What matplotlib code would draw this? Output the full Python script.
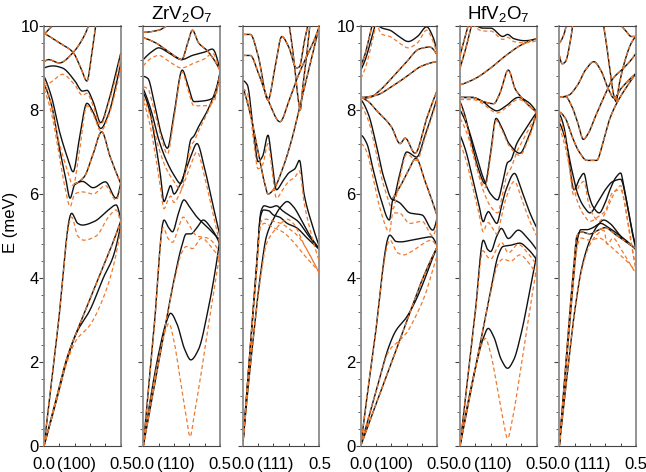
import numpy as np
import matplotlib
matplotlib.use("Agg")
import matplotlib.pyplot as plt

plt.rcParams["font.family"] = ["Liberation Sans", "DejaVu Sans"]
plt.rcParams["mathtext.fontset"] = "custom"
plt.rcParams["mathtext.rm"] = "Liberation Sans"
plt.rcParams["mathtext.it"] = "Liberation Sans:italic"

# ---------------------------------------------------------------------------
# Phonon branches, (q, E) pairs: q in reduced units 0..0.5, E in meV.
# "solid" = black branches, "dashed" = orange branches; an integer in a
# dashed list means the dashed branch coincides with that solid branch.
# ---------------------------------------------------------------------------

# ZrV2O7, (100)
zr100_solid = [
    [(0, 0), (.075, 1.0), (.15, 2.05), (.21, 2.68), (.3, 3.24), (.39, 4.03), (.45, 4.5), (.5, 5.25)],
    [(0, 0), (.075, 1.05), (.15, 2.1), (.25, 3.05), (.35, 3.95), (.45, 4.85), (.5, 5.35)],
    [(0, 0), (.09, 2.8), (.18, 5.54), (.22, 5.3), (.25, 5.26), (.33, 5.35), (.42, 5.62), (.47, 5.74), (.5, 5.4)],
    [(0, 8.6), (.05, 8.1), (.1, 7.1), (.14, 6.4), (.17, 5.9), (.2, 6.22), (.25, 6.3), (.32, 6.15), (.4, 6.29), (.47, 5.9), (.5, 6.25)],
    [(.2, 6.25), (.26, 6.4), (.32, 6.95), (.376, 7.48), (.43, 6.9), (.5, 6.25)],
    [(0, 8.8), (.05, 8.3), (.1, 7.5), (.15, 6.9), (.19, 6.53), (.23, 7.3), (.28, 8.16), (.32, 7.95), (.37, 7.56), (.42, 7.9), (.47, 8.6), (.5, 9.1)],
    [(0, 9.0), (.06, 9.05), (.12, 9.0), (.2, 8.7), (.25, 8.45), (.28, 8.47), (.32, 8.2), (.37, 7.7), (.42, 8.2), (.47, 8.9), (.5, 9.35)],
    [(0, 9.83), (.1, 9.6), (.19, 9.37), (.24, 9.0), (.28, 8.69), (.31, 9.3), (.34, 10.1)],
    [(0, 9.15), (.03, 9.2), (.1, 9.12), (.19, 9.37), (.26, 9.75), (.3, 10.1)],
    [(0, 9.8), (.04, 9.95), (.08, 10.1)],
]
zr100_dashed = [
    [(0, 0), (.075, 1.0), (.15, 2.0), (.21, 2.52), (.3, 2.88), (.39, 3.56), (.45, 4.25), (.5, 5.15)],
    1,
    [(0, 0), (.09, 2.8), (.18, 5.45), (.22, 5.0), (.26, 4.9), (.34, 5.0), (.42, 5.45), (.47, 5.62), (.5, 5.3)],
    [(0, 8.5), (.05, 7.9), (.1, 6.9), (.14, 6.1), (.17, 5.7), (.2, 6.0), (.25, 6.05), (.32, 6.0), (.4, 6.2), (.47, 5.85), (.5, 6.2)],
    4,
    [(0, 8.7), (.05, 8.1), (.1, 7.2), (.15, 6.6), (.19, 6.2), (.23, 7.0), (.28, 8.1), (.32, 7.9), (.37, 7.5), (.42, 7.85), (.47, 8.5), (.5, 9.0)],
    [(0, 8.55), (.06, 8.7), (.12, 8.85), (.2, 8.6), (.25, 8.35), (.28, 8.4), (.32, 8.1), (.37, 7.65), (.42, 8.15), (.47, 8.8), (.5, 9.3)],
    7, 8, 9,
]

# ZrV2O7, (110)
zr110_solid = [
    [(0, 0), (.05, 1.2), (.1, 2.2), (.15, 2.95), (.178, 3.16), (.22, 2.9), (.27, 2.3), (.31, 2.05), (.36, 2.3), (.42, 3.2), (.47, 4.2), (.5, 4.94)],
    [(0, 0), (.07, 1.4), (.14, 2.8), (.2, 3.95), (.25, 4.75), (.28, 5.05), (.31, 5.05), (.35, 5.2), (.39, 5.38), (.44, 5.2), (.5, 4.8)],
    [(0, 0), (.07, 2.8), (.135, 5.38), (.165, 5.2), (.19, 5.1), (.23, 5.55), (.265, 5.86), (.3, 5.7), (.35, 5.45), (.42, 5.2), (.5, 4.9)],
    [(0, 8.8), (.03, 8.75), (.07, 8.2), (.12, 7.4), (.157, 7.09), (.2, 7.9), (.254, 8.95), (.29, 8.6), (.33, 8.2), (.4, 8.22), (.46, 8.3), (.5, 8.9)],
    [(0, 8.5), (.05, 8.0), (.1, 7.3), (.15, 6.8), (.2, 6.45), (.243, 6.25), (.28, 6.7), (.31, 7.3), (.33, 7.38), (.36, 7.6), (.42, 8.0), (.47, 8.45), (.5, 8.85)],
    [(0, 8.4), (.04, 8.0), (.08, 7.2), (.11, 6.5), (.135, 5.82), (.16, 6.05), (.178, 6.2), (.2, 6.0), (.23, 6.15), (.27, 6.5), (.31, 6.9), (.35, 7.2), (.4, 6.6), (.45, 5.8), (.5, 5.0)],
    [(0, 9.85), (.1, 9.9), (.18, 10.1)],
    [(0, 9.72), (.08, 9.6), (.16, 9.4), (.22, 9.25), (.25, 9.2), (.29, 9.6), (.32, 9.9), (.36, 9.6), (.42, 9.4), (.5, 8.95)],
    [(0, 9.2), (.06, 9.4), (.1, 9.48), (.17, 9.35), (.25, 9.2), (.32, 9.3), (.4, 9.38), (.45, 9.45), (.5, 8.95)],
]
zr110_dashed = [
    [(0, 0), (.05, 1.15), (.1, 2.1), (.14, 2.7), (.167, 2.92), (.2, 2.5), (.24, 1.6), (.28, 0.7), (.305, 0.22), (.33, 0.7), (.38, 1.8), (.43, 3.0), (.47, 3.9), (.5, 4.6)],
    [(0, 0), (.07, 1.4), (.14, 2.8), (.2, 3.9), (.25, 4.6), (.28, 4.75), (.32, 4.7), (.38, 4.95), (.44, 4.75), (.5, 4.45)],
    [(0, 0), (.07, 2.75), (.13, 5.2), (.16, 4.95), (.19, 4.85), (.23, 5.2), (.26, 5.45), (.3, 5.25), (.35, 5.0), (.42, 4.95), (.5, 4.6)],
    [(0, 8.55), (.03, 8.5), (.07, 8.0), (.12, 7.3), (.157, 6.95), (.2, 7.8), (.254, 8.9), (.29, 8.5), (.33, 8.1), (.4, 8.1), (.46, 8.2), (.5, 8.85)],
    [(0, 8.3), (.05, 7.8), (.1, 7.1), (.15, 6.6), (.2, 6.3), (.243, 6.1), (.28, 6.6), (.31, 7.15), (.33, 7.25), (.36, 7.5), (.42, 7.95), (.47, 8.4), (.5, 8.8)],
    [(0, 8.2), (.04, 7.7), (.08, 6.9), (.11, 6.2), (.135, 5.65), (.16, 5.85), (.178, 5.95), (.2, 5.8), (.23, 5.95), (.27, 6.3), (.31, 6.7), (.35, 7.0), (.4, 6.4), (.45, 5.6), (.5, 4.8)],
    6, 7,
    [(0, 9.05), (.06, 9.25), (.1, 9.3), (.17, 9.15), (.25, 9.0), (.32, 9.1), (.4, 9.22), (.45, 9.35), (.5, 8.9)],
]

# ZrV2O7, (111)
zr111_solid = [
    [(0, 0), (.03, 1.2), (.067, 2.5), (.09, 3.3), (.12, 4.19), (.154, 4.98), (.2, 5.4), (.25, 5.7), (.29, 5.82), (.33, 5.7), (.38, 5.4), (.44, 5.0), (.5, 4.7)],
    [(0, 0), (.03, 1.45), (.06, 2.9), (.09, 4.3), (.12, 5.6), (.14, 5.72), (.18, 5.68), (.22, 5.72), (.26, 5.6), (.3, 5.5), (.36, 5.35), (.42, 5.05), (.5, 4.68)],
    [(0, 0), (.03, 1.4), (.06, 2.8), (.09, 4.2), (.115, 5.45), (.135, 5.62), (.17, 5.6), (.2, 5.5), (.24, 5.45), (.29, 5.3), (.35, 5.2), (.42, 4.95), (.5, 4.68)],
    [(0, 8.7), (.03, 8.6), (.07, 7.5), (.1, 6.77), (.13, 6.9), (.165, 7.4), (.19, 6.8), (.22, 6.1), (.26, 6.3), (.3, 6.5), (.34, 6.6), (.37, 6.8), (.4, 6.0), (.45, 5.3), (.5, 4.75)],
    [(0, 8.55), (.05, 7.9), (.1, 7.0), (.14, 6.3), (.165, 6.0), (.2, 6.1), (.26, 6.6), (.32, 7.3), (.38, 8.2), (.44, 9.1), (.48, 9.7), (.5, 10.0)],
    [(0, 9.8), (.05, 9.8), (.1, 9.3), (.165, 8.24), (.21, 9.0), (.255, 9.75), (.3, 9.5), (.35, 9.0), (.37, 9.03), (.4, 9.6), (.43, 10.1)],
    [(0, 9.3), (.05, 9.3), (.1, 8.9), (.17, 8.2), (.243, 7.72), (.3, 8.2), (.36, 8.8), (.42, 9.3), (.47, 9.7), (.5, 10.0)],
    [(.3, 10.1), (.33, 9.3), (.36, 8.3), (.375, 8.0), (.39, 8.5), (.42, 9.4), (.44, 10.1)],
]
zr111_dashed = [
    [(0, 0), (.03, 1.2), (.067, 2.5), (.09, 3.25), (.12, 4.1), (.154, 4.8), (.2, 5.1), (.25, 5.3), (.29, 5.4), (.33, 5.3), (.4, 4.8), (.46, 4.4), (.5, 4.1)],
    [(0, 0), (.03, 1.45), (.06, 2.9), (.09, 4.25), (.12, 5.35), (.15, 5.4), (.2, 5.35), (.25, 5.3), (.3, 5.18), (.36, 5.0), (.43, 4.6), (.5, 4.1)],
    [(0, 0), (.03, 1.4), (.06, 2.8), (.09, 4.1), (.115, 5.2), (.14, 5.3), (.2, 5.2), (.26, 5.1), (.32, 4.9), (.4, 4.55), (.5, 4.15)],
    [(0, 8.5), (.03, 8.4), (.07, 7.3), (.1, 6.6), (.13, 6.7), (.165, 7.2), (.19, 6.6), (.22, 5.9), (.26, 6.1), (.3, 6.3), (.34, 6.4), (.37, 6.55), (.4, 5.8), (.45, 5.0), (.5, 4.4)],
    4, 5, 6, 7,
]

# HfV2O7, (100)
hf100_solid = [
    [(0, 0), (.1, 1.3), (.187, 2.4), (.23, 2.75), (.296, 3.05), (.35, 3.4), (.404, 3.85), (.45, 4.3), (.5, 4.75)],
    [(0, 0), (.1, 1.0), (.2, 1.98), (.3, 2.97), (.4, 3.95), (.5, 4.75)],
    [(0, 0), (.09, 2.5), (.19, 5.02), (.23, 4.87), (.26, 4.86), (.33, 4.9), (.4, 4.95), (.46, 4.98), (.5, 4.75)],
    [(0, 7.4), (.04, 7.2), (.08, 6.6), (.13, 5.9), (.187, 5.38), (.21, 5.86), (.25, 5.8), (.32, 5.55), (.4, 5.5), (.47, 5.14), (.5, 5.46)],
    [(.21, 5.9), (.26, 6.2), (.31, 6.55), (.36, 6.85), (.42, 6.3), (.5, 5.46)],
    [(0, 8.25), (.05, 7.9), (.1, 7.2), (.15, 6.4), (.21, 5.86), (.25, 6.4), (.3, 7.0), (.365, 6.88), (.42, 7.4), (.47, 7.95), (.5, 8.3)],
    [(0, 8.3), (.05, 8.2), (.1, 8.0), (.2, 7.6), (.257, 7.2), (.29, 7.33), (.354, 6.97), (.43, 7.8), (.5, 8.48)],
    [(0, 8.3), (.1, 8.35), (.2, 8.55), (.3, 8.8), (.4, 9.05), (.5, 9.15)],
    [(0, 8.28), (.06, 8.3), (.12, 8.45), (.2, 8.75), (.3, 9.15), (.38, 9.45), (.45, 9.5), (.5, 9.3)],
    [(.09, 10.1), (.14, 9.95), (.19, 9.9), (.25, 9.75), (.31, 9.63), (.37, 9.75), (.43, 9.98), (.47, 9.75), (.5, 9.35)],
    [(0, 8.95), (.03, 9.2), (.07, 9.7), (.1, 10.1)],
    [(0, 9.05), (.03, 9.35), (.06, 9.8), (.08, 10.1)],
]
hf100_dashed = [
    [(0, 0), (.1, 1.3), (.19, 2.3), (.25, 2.5), (.3, 2.7), (.36, 3.1), (.42, 3.6), (.47, 4.2), (.5, 4.55)],
    1,
    [(0, 0), (.09, 2.5), (.19, 4.9), (.24, 4.6), (.28, 4.55), (.34, 4.65), (.4, 4.8), (.46, 4.9), (.5, 4.7)],
    [(0, 7.2), (.04, 7.0), (.08, 6.4), (.13, 5.6), (.187, 5.1), (.21, 5.55), (.25, 5.55), (.32, 5.3), (.4, 5.35), (.47, 5.0), (.5, 5.35)],
    4,
    [(0, 8.1), (.05, 7.75), (.1, 7.0), (.15, 6.2), (.21, 5.65), (.25, 6.3), (.3, 6.95), (.365, 6.8), (.42, 7.35), (.47, 7.9), (.5, 8.25)],
    6, 7, 8,
    [(.1, 10.1), (.14, 9.8), (.19, 9.75), (.25, 9.6), (.31, 9.48), (.37, 9.6), (.43, 9.9), (.47, 9.65), (.5, 9.3)],
    [(0, 8.75), (.03, 9.0), (.07, 9.55), (.1, 10.05)],
    11,
]

# HfV2O7, (110)
hf110_solid = [
    [(0, 0), (.05, 1.0), (.1, 1.85), (.15, 2.55), (.184, 2.8), (.22, 2.6), (.27, 2.05), (.31, 1.85), (.35, 2.05), (.4, 2.7), (.45, 3.6), (.5, 4.55)],
    [(0, 0), (.07, 1.3), (.14, 2.6), (.2, 3.7), (.25, 4.55), (.28, 4.75), (.33, 4.78), (.39, 4.83), (.44, 4.7), (.5, 4.43)],
    [(0, 0), (.05, 1.6), (.1, 3.2), (.152, 4.9), (.18, 4.68), (.2, 4.63), (.24, 5.0), (.27, 5.18), (.315, 4.94), (.38, 5.14), (.44, 4.95), (.5, 4.67)],
    [(0, 7.4), (.04, 7.0), (.08, 6.4), (.12, 5.8), (.152, 5.34), (.17, 5.5), (.185, 5.58), (.21, 5.45), (.24, 5.3), (.27, 5.7), (.3, 6.1), (.355, 6.49), (.4, 6.1), (.45, 5.6), (.5, 5.2)],
    [(0, 8.2), (.03, 7.9), (.07, 7.3), (.12, 6.6), (.163, 6.25), (.2, 7.0), (.235, 7.8), (.27, 7.6), (.32, 7.2), (.39, 6.97), (.44, 7.3), (.5, 7.95)],
    [(0, 8.0), (.05, 7.6), (.1, 7.0), (.15, 6.4), (.2, 6.0), (.245, 5.86), (.28, 6.3), (.31, 6.75), (.33, 6.8), (.37, 7.2), (.42, 7.5), (.5, 7.95)],
    [(0, 8.3), (.08, 8.3), (.15, 8.2), (.2, 8.05), (.24, 7.98), (.3, 8.1), (.38, 8.3), (.44, 8.2), (.5, 7.95)],
    [(0, 8.3), (.08, 8.3), (.15, 8.2), (.22, 8.15), (.26, 8.4), (.315, 8.95), (.36, 8.5), (.4, 8.3), (.45, 8.1), (.5, 7.95)],
    [(0, 8.6), (.1, 8.75), (.2, 9.0), (.3, 9.3), (.4, 9.55), (.5, 9.7)],
    [(.08, 10.1), (.15, 9.95), (.2, 9.95), (.28, 9.75), (.31, 9.8), (.35, 9.7), (.42, 9.65), (.5, 9.7)],
    [(0, 9.0), (.04, 9.5), (.08, 10.1)],
    [(0, 9.3), (.03, 9.7), (.06, 10.1)],
]
hf110_dashed = [
    [(0, 0), (.05, 1.0), (.1, 1.85), (.14, 2.4), (.165, 2.56), (.2, 2.2), (.24, 1.45), (.28, 0.65), (.31, 0.18), (.34, 0.6), (.39, 1.7), (.44, 2.9), (.5, 4.25)],
    [(0, 0), (.07, 1.3), (.14, 2.6), (.2, 3.65), (.25, 4.35), (.28, 4.45), (.33, 4.4), (.39, 4.55), (.45, 4.35), (.5, 4.05)],
    [(0, 0), (.05, 1.6), (.1, 3.15), (.15, 4.65), (.18, 4.5), (.2, 4.45), (.24, 4.7), (.27, 4.85), (.315, 4.6), (.38, 4.8), (.44, 4.6), (.5, 4.3)],
    [(0, 7.2), (.04, 6.8), (.08, 6.2), (.12, 5.6), (.152, 5.1), (.17, 5.25), (.185, 5.32), (.21, 5.2), (.24, 5.05), (.27, 5.45), (.3, 5.9), (.355, 6.3), (.4, 5.9), (.45, 5.4), (.5, 5.0)],
    [(0, 8.15), (.03, 7.85), (.07, 7.2), (.12, 6.5), (.163, 6.15), (.2, 6.9), (.235, 7.75), (.27, 7.55), (.32, 7.15), (.39, 6.92), (.44, 7.25), (.5, 7.9)],
    [(0, 7.8), (.05, 7.4), (.1, 6.75), (.15, 6.1), (.2, 5.7), (.245, 5.55), (.28, 6.05), (.31, 6.5), (.33, 6.6), (.37, 7.0), (.42, 7.35), (.5, 7.9)],
    [(0, 8.25), (.08, 8.25), (.15, 8.15), (.2, 8.0), (.24, 7.93), (.3, 8.05), (.38, 8.25), (.44, 8.15), (.5, 7.9)],
    7, 8,
    [(.08, 10.05), (.15, 9.88), (.2, 9.88), (.28, 9.68), (.31, 9.73), (.35, 9.63), (.42, 9.6), (.5, 9.65)],
    10, 11,
]

# HfV2O7, (111)
hf111_solid = [
    [(0, 0), (.03, 1.0), (.067, 2.2), (.1, 3.2), (.15, 4.3), (.2, 4.9), (.25, 5.25), (.29, 5.38), (.33, 5.3), (.4, 5.0), (.45, 4.85), (.5, 4.67)],
    [(0, 0), (.03, 1.3), (.06, 2.6), (.09, 3.9), (.12, 4.95), (.14, 5.15), (.18, 5.15), (.22, 5.2), (.27, 5.3), (.32, 5.2), (.38, 5.05), (.44, 4.85), (.5, 4.7)],
    [(0, 0), (.03, 1.4), (.06, 2.8), (.09, 4.1), (.115, 5.0), (.14, 5.1), (.2, 5.05), (.26, 5.15), (.3, 5.2), (.36, 5.05), (.42, 4.9), (.5, 4.7)],
    [(0, 7.9), (.03, 7.6), (.06, 6.9), (.096, 6.1), (.13, 6.35), (.16, 6.49), (.19, 6.0), (.22, 5.7), (.26, 5.55), (.3, 5.8), (.33, 6.1), (.37, 6.4), (.4, 6.5), (.42, 6.2), (.46, 5.4), (.5, 4.7)],
    [(0, 7.7), (.04, 7.3), (.08, 6.6), (.12, 6.0), (.16, 5.7), (.2, 5.55), (.25, 5.8), (.3, 6.1), (.35, 6.3), (.4, 6.35), (.44, 5.8), (.48, 5.0), (.5, 4.7)],
    [(0, 7.95), (.04, 7.8), (.08, 7.4), (.13, 7.0), (.18, 6.8), (.243, 6.8), (.29, 7.3), (.33, 7.8), (.38, 8.2), (.43, 8.5), (.5, 8.87)],
    [(0, 8.3), (.04, 8.32), (.08, 8.1), (.12, 7.7), (.157, 7.3), (.19, 7.45), (.23, 7.8), (.29, 8.3), (.35, 8.75), (.42, 9.0), (.47, 9.2), (.5, 9.35)],
    [(0, 8.3), (.06, 8.35), (.12, 8.6), (.17, 8.95), (.226, 9.15), (.27, 8.95), (.32, 8.5), (.357, 8.28), (.4, 8.5), (.45, 8.7), (.5, 8.87)],
    [(.285, 10.1), (.31, 9.5), (.335, 8.8), (.355, 8.35), (.37, 8.2), (.39, 8.6), (.43, 9.2), (.47, 9.6), (.5, 9.75)],
    [(.38, 10.1), (.43, 9.9), (.47, 9.75), (.5, 9.75)],
    [(0, 9.3), (.02, 9.1), (.04, 9.15), (.07, 9.6), (.09, 10.1)],
    [(0, 9.6), (.03, 9.8), (.05, 10.1)],
]
hf111_dashed = [
    [(0, 0), (.03, 1.0), (.067, 2.2), (.1, 3.2), (.15, 4.25), (.2, 4.8), (.25, 5.05), (.29, 5.14), (.313, 4.8), (.35, 4.95), (.4, 4.7), (.45, 4.4), (.5, 4.1)],
    [(0, 0), (.03, 1.3), (.06, 2.6), (.09, 3.85), (.12, 4.8), (.14, 4.95), (.2, 4.9), (.26, 4.95), (.32, 4.8), (.38, 4.6), (.44, 4.4), (.5, 4.15)],
    2,
    [(0, 7.8), (.03, 7.5), (.06, 6.8), (.096, 5.95), (.13, 6.2), (.16, 6.3), (.19, 5.8), (.22, 5.5), (.26, 5.35), (.3, 5.55), (.33, 5.8), (.37, 6.1), (.4, 6.2), (.42, 5.9), (.46, 5.0), (.5, 4.2)],
    [(0, 7.6), (.04, 7.1), (.08, 6.4), (.12, 5.8), (.16, 5.5), (.2, 5.35), (.25, 5.45), (.3, 5.6), (.35, 6.05), (.4, 6.1), (.44, 5.5), (.48, 4.6), (.5, 4.2)],
    5, 6, 7, 8, 9, 10, 11,
]

PANEL_DATA = [
    (zr100_solid, zr100_dashed, "(100)"),
    (zr110_solid, zr110_dashed, "(110)"),
    (zr111_solid, zr111_dashed, "(111)"),
    (hf100_solid, hf100_dashed, "(100)"),
    (hf110_solid, hf110_dashed, "(110)"),
    (hf111_solid, hf111_dashed, "(111)"),
]
GROUP_TITLES = ["ZrV$_2$O$_7$", "HfV$_2$O$_7$"]

BLACK = "#111111"
ORANGE = "#EE7A2E"
LABEL_SIZE = 12


def pchip(x, y, xs):
    """Shape-preserving piecewise cubic through (x, y), evaluated at xs."""
    x = np.asarray(x, float)
    y = np.asarray(y, float)
    h = np.diff(x)
    d = np.diff(y) / h
    n = len(x)
    m = np.zeros(n)
    if n == 2:
        m[:] = d[0]
    else:
        for k in range(1, n - 1):
            if d[k - 1] * d[k] <= 0:
                m[k] = 0.0
            else:
                w1 = 2 * h[k] + h[k - 1]
                w2 = h[k] + 2 * h[k - 1]
                m[k] = (w1 + w2) / (w1 / d[k - 1] + w2 / d[k])
        m[0] = ((2 * h[0] + h[1]) * d[0] - h[0] * d[1]) / (h[0] + h[1])
        if np.sign(m[0]) != np.sign(d[0]):
            m[0] = 0.0
        elif np.sign(d[0]) != np.sign(d[1]) and abs(m[0]) > abs(3 * d[0]):
            m[0] = 3 * d[0]
        m[-1] = ((2 * h[-1] + h[-2]) * d[-1] - h[-1] * d[-2]) / (h[-1] + h[-2])
        if np.sign(m[-1]) != np.sign(d[-1]):
            m[-1] = 0.0
        elif np.sign(d[-1]) != np.sign(d[-2]) and abs(m[-1]) > abs(3 * d[-1]):
            m[-1] = 3 * d[-1]
    idx = np.clip(np.searchsorted(x, xs) - 1, 0, n - 2)
    t = (xs - x[idx]) / h[idx]
    h00 = 2 * t**3 - 3 * t**2 + 1
    h10 = t**3 - 2 * t**2 + t
    h01 = -2 * t**3 + 3 * t**2
    h11 = t**3 - t**2
    return h00 * y[idx] + h10 * h[idx] * m[idx] + h01 * y[idx + 1] + h11 * h[idx] * m[idx + 1]


def draw_branch(ax, pts, **kw):
    q = [p[0] for p in pts]
    e = [p[1] for p in pts]
    qs = np.linspace(q[0], q[-1], 200)
    ax.plot(qs, pchip(q, e, qs), **kw)


W, H = 646, 472
fig = plt.figure(figsize=(W / 100, H / 100), dpi=100)

lefts = [44, 143.3, 242.7, 360.7, 460, 559.3]
pw = 76.7
top_px, bot_px = 26, 446
qlabel_y = -0.044

for i, (solid, dashed, direction) in enumerate(PANEL_DATA):
    ax = fig.add_axes([lefts[i] / W, 1 - bot_px / H, pw / W, (bot_px - top_px) / H])
    for br in solid:
        draw_branch(ax, br, color=BLACK, lw=1.0, solid_capstyle="round", zorder=2)
    for br in dashed:
        pts = solid[br] if isinstance(br, int) else br
        draw_branch(ax, pts, color=ORANGE, lw=0.9, ls=(0, (3.2, 2.2)), zorder=3)

    ax.set_xlim(0, 0.5)
    ax.set_ylim(0, 10)
    ax.set_xticks(np.arange(0, 0.51, 0.1))
    ax.set_xticklabels([])
    ax.tick_params(axis="x", direction="in", length=2.5, width=0.7, color="#444444")
    ax.set_yticks(np.arange(0, 10.1, 2))
    ax.set_yticks(np.arange(0, 10.01, 0.4), minor=True)
    ax.tick_params(axis="y", which="major", direction="out", length=3.5, width=0.8,
                   color="#444444", labelsize=LABEL_SIZE, pad=0.2)
    ax.tick_params(axis="y", which="minor", direction="out", length=2.0, width=0.6,
                   color="#444444")
    if i not in (0, 3):
        ax.set_yticklabels([])
    for side in ("top", "bottom"):
        ax.spines[side].set_color("#444444")
        ax.spines[side].set_linewidth(0.8)
    for side in ("left", "right"):
        ax.spines[side].set_color("#8a8a8a")
        ax.spines[side].set_linewidth(1.3)

    ax.text(0.0, qlabel_y, "0.0", transform=ax.transAxes, ha="center", va="center", fontsize=LABEL_SIZE)
    ax.text(1.0, qlabel_y, "0.5", transform=ax.transAxes, ha="center", va="center", fontsize=LABEL_SIZE)
    ax.text(0.43, qlabel_y, direction, transform=ax.transAxes, ha="center", va="center", fontsize=LABEL_SIZE)

fig.text(181.7 / W, 1 - 19 / H, GROUP_TITLES[0], ha="center", va="baseline", fontsize=13.5)
fig.text(498.3 / W, 1 - 19 / H, GROUP_TITLES[1], ha="center", va="baseline", fontsize=13.5)
fig.text(11 / W, 1 - 222 / H, "E (meV)", rotation=90, ha="center", va="center", fontsize=LABEL_SIZE)

fig.savefig("out.png", dpi=100)
